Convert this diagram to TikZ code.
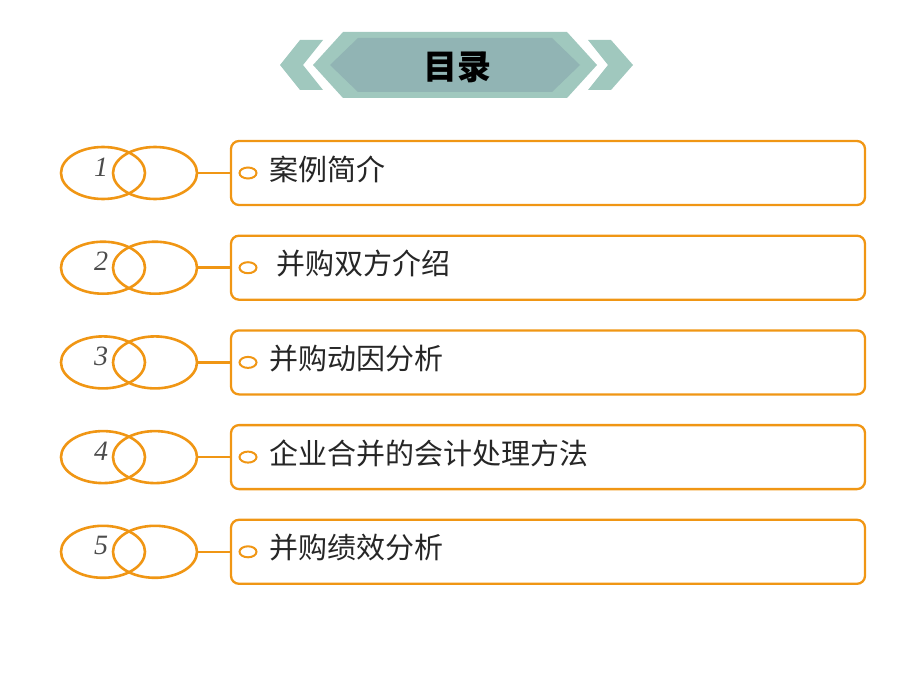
\documentclass[tikz,border=0pt]{standalone}
\usepackage{fontspec}
\newfontfamily\cjk{Noto Sans CJK SC}
\newfontfamily\numfont{Liberation Serif}
\usetikzlibrary{positioning,shapes.geometric}
\definecolor{org}{RGB}{240,150,20}
\definecolor{bann}{RGB}{160,200,190}
\definecolor{bannin}{RGB}{145,180,180}
\begin{document}
\begin{tikzpicture}[x=1pt,y=-1pt,
    ring/.style={draw=org,line width=2.6pt,ellipse,minimum width=84pt,minimum height=52pt},
    itembox/.style={draw=org,line width=2.3pt,rounded corners=8pt,minimum width=634pt,minimum height=64pt},
    knob/.style={draw=org,line width=2pt,fill=white,ellipse,minimum width=17pt,minimum height=11pt,inner sep=0pt},
    numtext/.style={font=\numfont\fontsize{28}{28}\selectfont\itshape,text=black!70},
    itemtext/.style={font=\cjk\fontsize{29}{29}\selectfont,text=black!85,anchor=west}]
  \useasboundingbox (0,0) rectangle (920,690);
  % banner
  \fill[bann] (280,65) -- (300,40) -- (323,40) -- (303,65) -- (323,90) -- (300,90) -- cycle;
  \fill[bann] (633,65) -- (611,40) -- (588,40) -- (608,65) -- (588,90) -- (611,90) -- cycle;
  \fill[bann] (313,65) -- (343,32) -- (567,32) -- (597,65) -- (567,98) -- (343,98) -- cycle;
  \fill[bannin] (330,65) -- (358,38) -- (552,38) -- (580,65) -- (552,92) -- (358,92) -- cycle;
  \node[font=\cjk\bfseries\fontsize{34}{34}\selectfont] (title) at (457,67) {目录};
  % items
  \foreach \i/\txt in {1/案例简介,2/\ 并购双方介绍,3/并购动因分析,4/企业合并的会计处理方法,5/并购绩效分析}{
    \pgfmathsetmacro{\yy}{173+94.7*(\i-1)}
    \node[itembox] (box\i) at (548,\yy) {};
    \draw[org,line width=2.6pt] (197,\yy) -- (box\i.west);
    \node[ring] (ringa\i) at (103,\yy) {};
    \node[ring] (ringb\i) at (155,\yy) {};
    \node[numtext] (num\i) at (101,\yy-6) {\i};
    \node[knob] (knob\i) at (248,\yy) {};
    \node[itemtext] (txt\i) at (266,\yy-4) {\txt};
  }
\end{tikzpicture}
\end{document}
